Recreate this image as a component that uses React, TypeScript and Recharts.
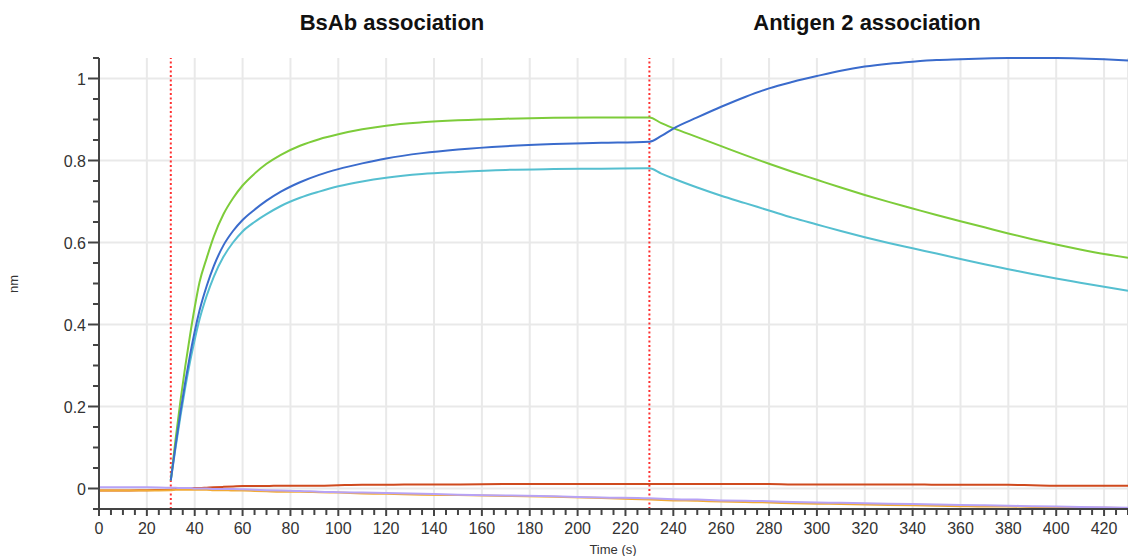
import { LineChart, Line, XAxis, YAxis, CartesianGrid, ReferenceLine } from "recharts";

// time points (s)
const time = [
  0, 10, 20, 30, 32, 34, 36, 38, 40, 42, 45, 48, 52, 56, 60, 65, 70, 76, 84, 92, 100,
  110, 120, 135, 150, 170, 190, 210, 230, 235, 240, 250, 260, 270, 280, 290, 300, 310,
  320, 330, 340, 350, 360, 370, 380, 390, 400, 410, 420, 430,
];

// response (nm) per sensor; the loaded sensors start at the BsAb step
const greenTrace = [
  null, null, null, 0.02, 0.12, 0.212, 0.296, 0.372, 0.442, 0.503, 0.562, 0.615, 0.669, 0.708,
  0.739, 0.768, 0.792, 0.814, 0.836, 0.852, 0.864, 0.876, 0.885, 0.893, 0.898, 0.902, 0.904,
  0.905, 0.905, 0.891, 0.879, 0.857, 0.835, 0.813, 0.792, 0.772, 0.753, 0.734, 0.716, 0.699,
  0.683, 0.667, 0.652, 0.637, 0.622, 0.608, 0.595, 0.583, 0.572, 0.563,
];
const blueTrace = [
  null, null, null, 0.02, 0.105, 0.185, 0.258, 0.324, 0.383, 0.434, 0.494, 0.543, 0.593, 0.628,
  0.655, 0.68, 0.702, 0.724, 0.747, 0.765, 0.779, 0.793, 0.805, 0.818, 0.827, 0.835, 0.84,
  0.843, 0.846, 0.86, 0.878, 0.905, 0.931, 0.955, 0.976, 0.992, 1.006, 1.019, 1.029, 1.036,
  1.041, 1.045, 1.047, 1.049, 1.05, 1.05, 1.05, 1.049, 1.047, 1.044,
];
const cyanTrace = [
  null, null, null, 0.02, 0.1, 0.175, 0.245, 0.308, 0.363, 0.412, 0.47, 0.517, 0.565, 0.6,
  0.627, 0.65, 0.669, 0.689, 0.709, 0.724, 0.737, 0.749, 0.758, 0.767, 0.772, 0.777, 0.779,
  0.78, 0.781, 0.768, 0.756, 0.734, 0.714, 0.696, 0.678, 0.66, 0.644, 0.628, 0.613, 0.599,
  0.586, 0.573, 0.56, 0.547, 0.535, 0.523, 0.512, 0.502, 0.492, 0.482,
];
const redTrace = [
  -0.005, -0.005, -0.004, -0.003, -0.001, 0, 0, 0, 0.001, 0.001, 0.002, 0.003, 0.004, 0.005,
  0.006, 0.006, 0.006, 0.007, 0.007, 0.007, 0.008, 0.009, 0.009, 0.01, 0.01, 0.011, 0.011,
  0.011, 0.011, 0.011, 0.011, 0.011, 0.011, 0.011, 0.011, 0.01, 0.01, 0.01, 0.01, 0.01, 0.01,
  0.009, 0.009, 0.009, 0.009, 0.008, 0.007, 0.007, 0.007, 0.007,
];
const orangeTrace = [
  -0.005, -0.005, -0.005, -0.004, -0.003, -0.003, -0.003, -0.003, -0.003, -0.003, -0.003,
  -0.004, -0.004, -0.005, -0.005, -0.006, -0.007, -0.008, -0.008, -0.009, -0.01, -0.012,
  -0.013, -0.015, -0.016, -0.018, -0.02, -0.023, -0.027, -0.028, -0.029, -0.03, -0.032,
  -0.033, -0.034, -0.036, -0.037, -0.038, -0.039, -0.04, -0.041, -0.042, -0.043, -0.044,
  -0.044, -0.045, -0.046, -0.047, -0.047, -0.048,
];
const purpleTrace = [
  0.003, 0.003, 0.003, 0.002, 0.002, 0.001, 0.001, 0.001, 0, 0, 0, -0.001, -0.001, -0.001,
  -0.002, -0.003, -0.004, -0.005, -0.006, -0.008, -0.009, -0.01, -0.011, -0.013, -0.015,
  -0.017, -0.019, -0.022, -0.024, -0.025, -0.026, -0.027, -0.029, -0.03, -0.031, -0.033,
  -0.034, -0.035, -0.036, -0.037, -0.038, -0.039, -0.04, -0.041, -0.042, -0.043, -0.044,
  -0.045, -0.046, -0.047,
];

// step boundaries
const stepStarts = [30, 230];
const stepTitles = ["BsAb association", "Antigen 2 association"];

const yTicks = [
  -0.05, 0, 0.05, 0.1, 0.15, 0.2, 0.25, 0.3, 0.35, 0.4, 0.45, 0.5, 0.55, 0.6, 0.65, 0.7, 0.75,
  0.8, 0.85, 0.9, 0.95, 1, 1.05,
];
const yGrid = [0, 0.2, 0.4, 0.6, 0.8, 1];
const xGrid = [20, 40, 60, 80, 100, 120, 140, 160, 180, 200, 220, 240, 260, 280, 300, 320, 340, 360, 380, 400, 420];
const xTicks = Array.from({ length: 87 }, (_, i) => i * 5);

const data = time.map((t, i) => ({
  t,
  green: greenTrace[i],
  blue: blueTrace[i],
  cyan: cyanTrace[i],
  red: redTrace[i],
  orange: orangeTrace[i],
  purple: purpleTrace[i],
}));

const FONT = "'Liberation Sans', Arial, sans-serif";
const AXIS = "#444";
const X_DOMAIN = [0, 430];
const Y_DOMAIN = [-0.05, 1.05];

function YTick(props: any) {
  const { x, y, payload } = props;
  const v = payload.value;
  const major = Math.abs(v * 5 - Math.round(v * 5)) < 1e-6;
  return (
    <g>
      <line x1={x - (major ? 11 : 6)} x2={x} y1={y} y2={y} stroke={AXIS} strokeWidth={2} />
      {major && (
        <text x={x - 13} y={y + 6} textAnchor="end" fontSize={16} fontFamily={FONT} fill="#333">
          {String(Math.round(v * 10) / 10)}
        </text>
      )}
    </g>
  );
}

function XTick(props: any) {
  const { x, y, payload } = props;
  const v = payload.value;
  const major = v % 20 === 0;
  return (
    <g>
      <line x1={x} x2={x} y1={y} y2={y + (major ? 7 : 6)} stroke={AXIS} strokeWidth={2} />
      {major && (
        <text x={x} y={y + 25} textAnchor="middle" fontSize={16} fontFamily={FONT} fill="#333">
          {v}
        </text>
      )}
    </g>
  );
}

export default function App() {
  return (
    <div style={{ position: "absolute", left: 0, top: 0, width: 1128, height: 556, background: "#fff" }}>
      <LineChart width={1128} height={556} data={data} margin={{ top: 58, right: 0, bottom: 0, left: 0 }}>
        {/* hidden axis that only carries the vertical grid positions */}
        <XAxis xAxisId="grid" dataKey="t" type="number" domain={X_DOMAIN} ticks={xGrid} interval={0} hide />
        <CartesianGrid xAxisId="grid" horizontalValues={yGrid} stroke="#e9e9e9" strokeWidth={2} />
        <XAxis
          dataKey="t"
          type="number"
          domain={X_DOMAIN}
          ticks={xTicks}
          interval={0}
          height={47}
          tickSize={0}
          tickMargin={0}
          tickLine={false}
          axisLine={{ stroke: AXIS, strokeWidth: 2 }}
          tick={<XTick />}
        />
        <YAxis
          type="number"
          domain={Y_DOMAIN}
          ticks={yTicks}
          interval={0}
          width={99}
          tickSize={0}
          tickMargin={0}
          tickLine={false}
          axisLine={{ stroke: AXIS, strokeWidth: 2 }}
          tick={<YTick />}
        />
        {stepStarts.map((s) => (
          <ReferenceLine key={s} x={s} stroke="#ff3030" strokeWidth={2} strokeDasharray="2 2.5" />
        ))}
        <Line type="monotone" dataKey="red" stroke="#cf4a1e" strokeWidth={2} dot={false} isAnimationActive={false} />
        <Line type="monotone" dataKey="orange" stroke="#f2ab36" strokeWidth={2} dot={false} isAnimationActive={false} />
        <Line type="monotone" dataKey="purple" stroke="#b7a2f6" strokeWidth={2} dot={false} isAnimationActive={false} />
        <Line type="monotone" dataKey="cyan" stroke="#55bfd0" strokeWidth={2} dot={false} isAnimationActive={false} />
        <Line type="monotone" dataKey="green" stroke="#7dcc3a" strokeWidth={2} dot={false} isAnimationActive={false} />
        <Line type="monotone" dataKey="blue" stroke="#3a6bcc" strokeWidth={2} dot={false} isAnimationActive={false} />
      </LineChart>
      <svg
        width={1128}
        height={556}
        style={{ position: "absolute", left: 0, top: 0, pointerEvents: "none" }}
        fontFamily={FONT}
      >
        <text x={392} y={30} textAnchor="middle" fontSize={22} fontWeight="bold" fill="#111">
          {stepTitles[0]}
        </text>
        <text x={867} y={30} textAnchor="middle" fontSize={22} fontWeight="bold" fill="#111">
          {stepTitles[1]}
        </text>
        <text x={18} y={284} textAnchor="middle" fontSize={13} fill="#333" transform="rotate(-90 18 284)">
          nm
        </text>
        <text x={613} y={554} textAnchor="middle" fontSize={13} fill="#333">
          Time (s)
        </text>
      </svg>
    </div>
  );
}
